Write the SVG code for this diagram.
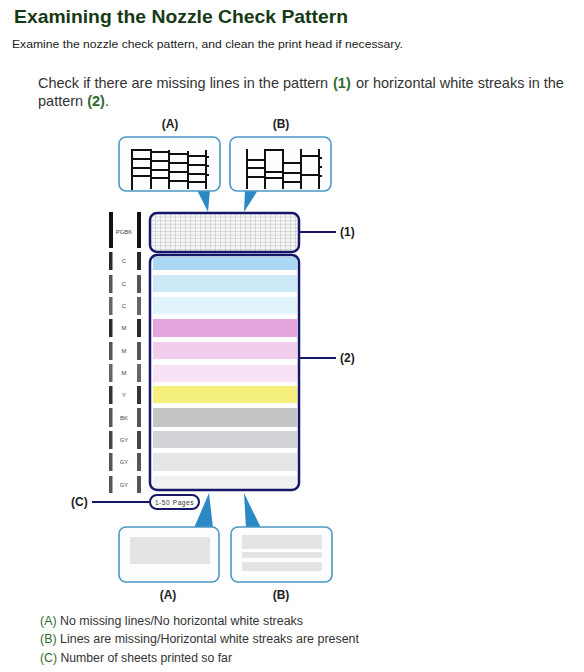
<svg xmlns="http://www.w3.org/2000/svg" width="584" height="672" viewBox="0 0 584 672">
<style>
text{font-family:"Liberation Sans",Arial,sans-serif;}
.title{font-size:19px;font-weight:bold;fill:#163a16;}
.sub{font-size:11px;fill:#222;}
.main{font-size:14.5px;fill:#333;}
.g{fill:#2f6b2f;font-weight:bold;}
.lbl{font-size:12px;font-weight:bold;fill:#222;}
.leg{font-size:12px;fill:#333;}
.lg{fill:#2f6b2f;}
.callout{fill:#fbfdfe;stroke:#4a98c4;stroke-width:1.6;}
.ptr{fill:#2b8ac6;}
.nav{fill:none;stroke:#17176a;stroke-width:2.5;}
.conn{stroke:#17176a;stroke-width:1.8;fill:none;}
.blk{stroke:#111;stroke-width:2;fill:none;stroke-linecap:square;}
.bar{font-size:6px;fill:#444;text-anchor:middle;}
</style>
<defs>
<pattern id="grid" patternUnits="userSpaceOnUse" width="5" height="3.6" x="150" y="213">
<rect width="5" height="3.6" fill="#f6f6f6"/>
<path d="M0 0H5M0 0V3.6" stroke="#9a9a9a" stroke-width="0.6"/>
</pattern>
<clipPath id="clip2"><rect x="151" y="256" width="147" height="233" rx="6"/></clipPath>
</defs>

<g id="heading">
<text class="title" x="14" y="23" textLength="334" lengthAdjust="spacingAndGlyphs">Examining the Nozzle Check Pattern</text>
<text class="sub" x="12" y="48" textLength="391" lengthAdjust="spacingAndGlyphs">Examine the nozzle check pattern, and clean the print head if necessary.</text>
<text class="main" x="38" y="88">Check if there are missing lines in the pattern</text>
<text class="main g" x="333" y="88">(1)</text>
<text class="main" x="356" y="88">or horizontal white streaks in the</text>
<text class="main" x="38" y="106">pattern <tspan class="g">(2)</tspan>.</text>
</g>

<g id="connectors">
<polygon class="ptr" points="197,190 210,190 208,212"/>
<polygon class="ptr" points="245,190 258,190 244,212"/>
<polygon class="ptr" points="194,528 213,528 209,493"/>
<polygon class="ptr" points="246,528 261,528 244,493"/>
<line class="conn" x1="299" y1="232" x2="336" y2="232"/>
<line class="conn" x1="299" y1="358" x2="336" y2="358"/>
<line class="conn" x1="92" y1="502" x2="150" y2="502"/>
</g>

<g id="callout-top-a">
<text class="lbl" x="170" y="128" text-anchor="middle">(A)</text>
<rect class="callout" x="119" y="137" width="101" height="54" rx="7"/>
<path class="blk" d="M132 150V189M151 150V188M169 151V188M188 152V188M206 151V188
M132 150H151M132 159H151M132 168H151M132 176H151
M151 152H169M151 161H169M151 170H169M151 178H169
M169 154H188M169 163H188M169 172H188M169 181H188
M188 156H206M188 165H206M188 174H206M188 182H206
M206 157H208M206 166H208M206 175H208"/>
</g>

<g id="callout-top-b">
<text class="lbl" x="281" y="128" text-anchor="middle">(B)</text>
<rect class="callout" x="230" y="137" width="101" height="54" rx="7"/>
<path class="blk" d="M247 150V188M265 150V188M283 150V188M301 150V188M319 150V188
M247 160H265M247 168H265M247 177H265
M265 150H283M265 172H283M265 178H283
M283 163H301M283 173H301M283 182H301
M301 156H319M301 175H319
M319 158H321M319 167H321M319 176H321"/>
</g>

<g id="pattern-1">
<rect x="150" y="213" width="149" height="39" rx="7" fill="url(#grid)" stroke="#17176a" stroke-width="2.5"/>
<text class="lbl" x="340" y="236">(1)</text>
</g>

<g id="pattern-2">
<rect x="150" y="255" width="149" height="235" rx="7" fill="#fff"/>
<g clip-path="url(#clip2)">
<rect x="153" y="257" width="144" height="13" fill="#acd7f2"/>
<rect x="153" y="275" width="144" height="17" fill="#cde9f8"/>
<rect x="153" y="297" width="144" height="17" fill="#e2f4fb"/>
<rect x="153" y="319" width="144" height="18" fill="#e5a5dc"/>
<rect x="153" y="342" width="144" height="17" fill="#f3cdee"/>
<rect x="153" y="365" width="144" height="17" fill="#f8e2f5"/>
<rect x="153" y="386" width="144" height="17" fill="#f5f07c"/>
<rect x="153" y="408" width="144" height="19" fill="#c5c5c5"/>
<rect x="153" y="431" width="144" height="17" fill="#d3d3d7"/>
<rect x="153" y="453" width="144" height="18" fill="#e6e6e9"/>
<rect x="153" y="476" width="144" height="13" fill="#f1f1f3"/>
</g>
<rect class="nav" x="150" y="255" width="149" height="235" rx="7"/>
<text class="lbl" x="340" y="362">(2)</text>
</g>

<g id="nozzle-labels">
<rect x="109" y="212" width="4" height="36" fill="#111"/><rect x="137" y="212" width="4" height="36" fill="#111"/><text class="bar" x="124" y="234">PGBK</text>
<rect x="109" y="252" width="3.5" height="18" fill="#2a2a2a"/><rect x="137" y="252" width="4" height="18" fill="#2a2a2a"/><text class="bar" x="124" y="263">C</text>
<rect x="109" y="275" width="3.5" height="18" fill="#555"/><rect x="137" y="275" width="4" height="18" fill="#555"/><text class="bar" x="124" y="286">C</text>
<rect x="109" y="297" width="3.5" height="18" fill="#666"/><rect x="137" y="297" width="4" height="18" fill="#666"/><text class="bar" x="124" y="308">C</text>
<rect x="109" y="319" width="3.5" height="18" fill="#2a2a2a"/><rect x="137" y="319" width="4" height="18" fill="#2a2a2a"/><text class="bar" x="124" y="330">M</text>
<rect x="109" y="342" width="3.5" height="18" fill="#555"/><rect x="137" y="342" width="4" height="18" fill="#555"/><text class="bar" x="124" y="353">M</text>
<rect x="109" y="364" width="3.5" height="18" fill="#666"/><rect x="137" y="364" width="4" height="18" fill="#666"/><text class="bar" x="124" y="375">M</text>
<rect x="109" y="386" width="3.5" height="18" fill="#333"/><rect x="137" y="386" width="4" height="18" fill="#333"/><text class="bar" x="124" y="397">Y</text>
<rect x="109" y="408" width="3.5" height="19" fill="#555"/><rect x="137" y="408" width="4" height="19" fill="#555"/><text class="bar" x="124" y="420">BK</text>
<rect x="109" y="431" width="3.5" height="18" fill="#444"/><rect x="137" y="431" width="4" height="18" fill="#444"/><text class="bar" x="124" y="442">GY</text>
<rect x="109" y="453" width="3.5" height="18" fill="#555"/><rect x="137" y="453" width="4" height="18" fill="#555"/><text class="bar" x="124" y="464">GY</text>
<rect x="109" y="476" width="3.5" height="17" fill="#555"/><rect x="137" y="476" width="4" height="17" fill="#555"/><text class="bar" x="124" y="487">GY</text>
</g>

<g id="page-count">
<text class="lbl" x="71" y="506">(C)</text>
<rect x="150" y="495" width="49" height="14" rx="7" fill="#fff" stroke="#17176a" stroke-width="2"/>
<text x="174.5" y="505" font-size="6.5" fill="#333" text-anchor="middle" letter-spacing="0.6">1-50 Pages</text>
</g>

<g id="callout-bottom-a">
<rect class="callout" x="119" y="527" width="100" height="55" rx="7"/>
<rect x="130" y="537" width="80" height="27" fill="#e4e4e4"/>
<text class="lbl" x="168" y="599" text-anchor="middle">(A)</text>
</g>

<g id="callout-bottom-b">
<rect class="callout" x="231" y="527" width="101" height="55" rx="7"/>
<rect x="242" y="535" width="80" height="14" fill="#e4e4e4"/>
<rect x="242" y="552" width="80" height="6" fill="#e4e4e4"/>
<rect x="242" y="562" width="80" height="9" fill="#e4e4e4"/>
<text class="lbl" x="281" y="599" text-anchor="middle">(B)</text>
</g>

<g id="legend">
<text class="leg" x="40" y="625" textLength="263" lengthAdjust="spacingAndGlyphs"><tspan class="lg">(A)</tspan> No missing lines/No horizontal white streaks</text>
<text class="leg" x="40" y="643" textLength="319" lengthAdjust="spacingAndGlyphs"><tspan class="lg">(B)</tspan> Lines are missing/Horizontal white streaks are present</text>
<text class="leg" x="40" y="662" textLength="192" lengthAdjust="spacingAndGlyphs"><tspan class="lg">(C)</tspan> Number of sheets printed so far</text>
</g>
</svg>
